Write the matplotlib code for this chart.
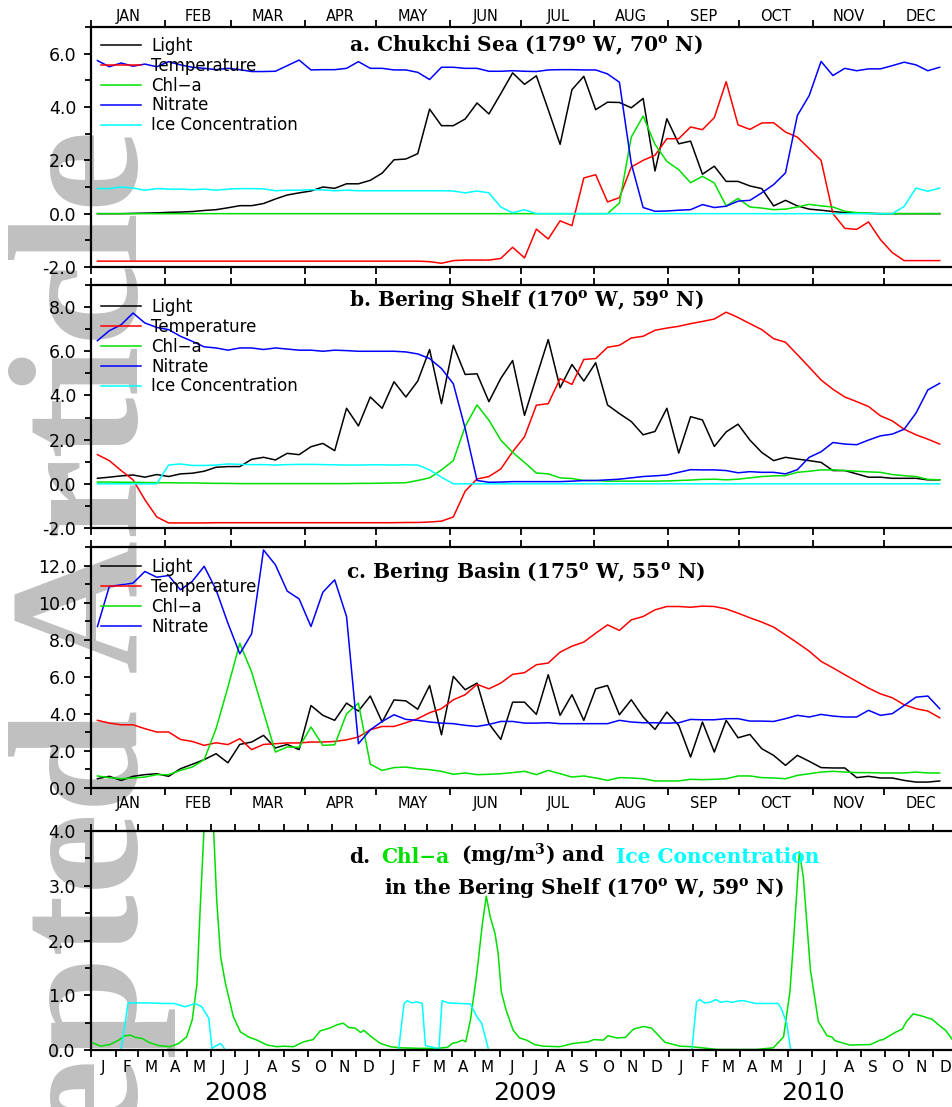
import numpy as np
import matplotlib
matplotlib.use('Agg')
import matplotlib.pyplot as plt
import matplotlib.transforms as mtransforms
from matplotlib.ticker import MultipleLocator, FixedLocator, FixedFormatter, NullFormatter, FormatStrFormatter
from matplotlib.offsetbox import TextArea, HPacker, VPacker, AnchoredOffsetbox

plt.rcParams['mathtext.fontset'] = 'dejavuserif'
plt.rcParams['font.family'] = ['DejaVu Sans']

# ---------------- data: 5-day composites, one climatological year ----------------
days = np.arange(2.5, 360, 5.0)   # 72 composite centres (day of year)

# a. Chukchi Sea
a_light = [0.0, 0.0, 0.0, 0.01, 0.02, 0.03, 0.05, 0.06, 0.08, 0.12,
           0.15, 0.22, 0.30, 0.30, 0.38, 0.55, 0.70, 0.78, 0.85, 1.00,
           0.95, 1.12, 1.12, 1.25, 1.52, 2.02, 2.05, 2.25, 3.92, 3.30,
           3.30, 3.55, 4.15, 3.74, 4.50, 5.28, 4.85, 5.17, 3.90, 2.60,
           4.65, 5.15, 3.90, 4.18, 4.17, 3.97, 4.32, 1.60, 3.56, 2.62,
           2.72, 1.48, 1.78, 1.21, 1.21, 1.04, 0.94, 0.29, 0.50, 0.29,
           0.17, 0.13, 0.08, 0.04, 0.02, 0.01, 0.0, 0.0, 0.0, 0.0,
           0.0, 0.0]
a_temp = [-1.78, -1.78, -1.78, -1.78, -1.78, -1.78, -1.78, -1.78, -1.78, -1.78,
          -1.78, -1.78, -1.78, -1.78, -1.78, -1.78, -1.78, -1.78, -1.78, -1.78,
          -1.78, -1.78, -1.78, -1.78, -1.78, -1.78, -1.78, -1.78, -1.80, -1.86,
          -1.76, -1.74, -1.74, -1.74, -1.68, -1.26, -1.66, -0.58, -0.95, -0.27,
          -0.45, 1.34, 1.46, 0.44, 0.60, 1.75, 2.00, 2.19, 2.81, 2.81,
          3.25, 3.15, 3.60, 4.95, 3.33, 3.16, 3.40, 3.41, 3.06, 2.87,
          2.44, 2.00, 0.00, -0.55, -0.59, -0.31, -0.97, -1.46, -1.76, -1.76,
          -1.76, -1.76]
a_chl = [0.0] * 44 + [0.40, 2.87, 3.66, 2.60, 1.96, 1.65, 1.16, 1.40, 1.15, 0.29,
                      0.57, 0.25, 0.21, 0.15, 0.17, 0.25, 0.35, 0.29, 0.25, 0.09,
                      0.04, 0.02, 0.0, 0.0, 0.0, 0.0, 0.0, 0.0]
a_no3 = [5.74, 5.51, 5.65, 5.53, 5.61, 5.51, 5.70, 5.58, 5.49, 5.45,
         5.40, 5.45, 5.40, 5.33, 5.33, 5.34, 5.55, 5.76, 5.39, 5.40,
         5.40, 5.45, 5.70, 5.45, 5.45, 5.39, 5.39, 5.30, 5.03, 5.49,
         5.49, 5.45, 5.45, 5.34, 5.34, 5.36, 5.34, 5.33, 5.39, 5.40,
         5.40, 5.39, 5.39, 5.24, 4.93, 1.88, 0.23, 0.09, 0.10, 0.13,
         0.15, 0.34, 0.23, 0.28, 0.47, 0.50, 0.78, 1.09, 1.53, 3.68,
         4.43, 5.71, 5.18, 5.45, 5.36, 5.43, 5.43, 5.55, 5.68, 5.58,
         5.36, 5.49]
a_ice = [0.94, 0.94, 1.00, 0.96, 0.88, 0.94, 0.92, 0.92, 0.90, 0.92,
         0.88, 0.92, 0.94, 0.94, 0.93, 0.86, 0.88, 0.88, 0.90, 0.89,
         0.86, 0.88, 0.86, 0.86, 0.86, 0.86, 0.86, 0.86, 0.86, 0.86,
         0.85, 0.78, 0.85, 0.78, 0.25, 0.03, 0.15] + [0.0] * 31 + [0.27, 0.96, 0.84, 0.96]

# b. Bering Shelf
b_light = [0.25, 0.30, 0.36, 0.40, 0.30, 0.42, 0.33, 0.45, 0.48, 0.57,
           0.75, 0.78, 0.78, 1.11, 1.20, 1.08, 1.38, 1.32, 1.68, 1.83,
           1.50, 3.42, 2.62, 3.93, 3.42, 4.62, 3.93, 4.65, 6.08, 3.63,
           6.27, 4.95, 4.98, 3.72, 4.77, 5.58, 3.10, 4.83, 6.53, 4.35,
           5.40, 4.65, 5.48, 3.57, 3.18, 2.82, 2.22, 2.37, 3.42, 1.39,
           3.04, 2.89, 1.69, 2.35, 2.70, 1.98, 1.42, 1.05, 1.20, 1.12,
           1.05, 0.97, 0.60, 0.60, 0.45, 0.30, 0.30, 0.25, 0.25, 0.25,
           0.18, 0.18]
b_temp = [1.32, 1.05, 0.60, 0.18, -0.72, -1.50, -1.77, -1.77, -1.77, -1.77,
          -1.76, -1.76, -1.76, -1.76, -1.76, -1.76, -1.76, -1.76, -1.76, -1.76,
          -1.76, -1.76, -1.76, -1.76, -1.76, -1.76, -1.75, -1.75, -1.73, -1.69,
          -1.50, -0.33, 0.22, 0.33, 0.67, 1.45, 2.13, 3.56, 3.63, 4.76,
          4.50, 5.63, 5.67, 6.18, 6.27, 6.60, 6.68, 6.95, 7.05, 7.13,
          7.25, 7.35, 7.46, 7.77, 7.53, 7.25, 6.98, 6.57, 6.41, 5.85,
          5.28, 4.70, 4.28, 3.93, 3.72, 3.50, 3.08, 2.85, 2.47, 2.22,
          2.02, 1.80]
b_chl = [0.08, 0.08, 0.07, 0.07, 0.06, 0.05, 0.05, 0.04, 0.04, 0.03,
         0.02, 0.02, 0.01, 0.01, 0.01, 0.01, 0.01, 0.01, 0.01, 0.01,
         0.01, 0.01, 0.02, 0.02, 0.03, 0.04, 0.05, 0.15, 0.27, 0.63,
         1.05, 2.60, 3.57, 2.88, 1.98, 1.42, 0.97, 0.49, 0.45, 0.27,
         0.24, 0.15, 0.15, 0.12, 0.12, 0.12, 0.12, 0.12, 0.13, 0.15,
         0.17, 0.20, 0.21, 0.18, 0.21, 0.27, 0.33, 0.36, 0.37, 0.52,
         0.57, 0.63, 0.63, 0.60, 0.57, 0.54, 0.52, 0.42, 0.37, 0.33,
         0.20, 0.18]
b_no3 = [6.48, 6.93, 7.20, 7.73, 7.28, 7.08, 6.98, 6.68, 6.45, 6.20,
         6.15, 6.05, 6.15, 6.15, 6.08, 6.15, 6.10, 6.05, 6.05, 6.00,
         6.05, 6.03, 6.00, 6.00, 6.00, 6.00, 5.97, 5.88, 5.67, 5.22,
         4.53, 2.50, 0.15, 0.07, 0.08, 0.10, 0.10, 0.10, 0.10, 0.10,
         0.12, 0.15, 0.15, 0.18, 0.21, 0.27, 0.33, 0.36, 0.40, 0.52,
         0.64, 0.63, 0.63, 0.60, 0.50, 0.55, 0.52, 0.52, 0.45, 0.64,
         1.20, 1.45, 1.87, 1.80, 1.77, 1.98, 2.17, 2.25, 2.47, 3.20,
         4.25, 4.55]
b_ice = [0.0] * 6 + [0.85, 0.90, 0.83, 0.83, 0.85, 0.90, 0.88, 0.87, 0.87, 0.85,
                     0.87, 0.88, 0.88, 0.87, 0.86, 0.85, 0.85, 0.86, 0.86, 0.85,
                     0.86, 0.85, 0.63, 0.30] + [0.0] * 42

# c. Bering Basin
c_light = [0.50, 0.63, 0.41, 0.63, 0.72, 0.77, 0.63, 1.04, 1.28, 1.53,
           1.85, 1.36, 2.35, 2.48, 2.84, 2.16, 2.35, 2.07, 4.45, 3.92,
           3.65, 4.58, 4.15, 4.96, 3.56, 4.75, 4.70, 4.25, 5.53, 2.87,
           6.02, 5.30, 5.66, 3.47, 2.62, 4.63, 4.63, 3.97, 6.11, 3.92,
           5.03, 3.65, 5.35, 5.53, 3.95, 4.76, 3.83, 3.16, 4.10, 3.38,
           1.67, 3.56, 1.94, 3.65, 2.71, 2.89, 2.12, 1.76, 1.22, 1.76,
           1.44, 1.10, 1.08, 1.08, 0.56, 0.63, 0.54, 0.54, 0.41, 0.32,
           0.32, 0.38]
c_temp = [3.65, 3.50, 3.41, 3.41, 3.20, 3.02, 3.02, 2.62, 2.51, 2.30,
          2.44, 2.34, 2.66, 2.07, 2.35, 2.39, 2.43, 2.43, 2.48, 2.48,
          2.51, 2.60, 2.75, 3.14, 3.32, 3.32, 3.52, 3.74, 4.06, 4.28,
          4.76, 5.03, 5.59, 5.35, 5.66, 6.13, 6.22, 6.65, 6.74, 7.33,
          7.65, 7.87, 8.35, 8.80, 8.50, 9.07, 9.25, 9.61, 9.79, 9.79,
          9.75, 9.81, 9.79, 9.66, 9.43, 9.18, 8.95, 8.68, 8.26, 7.83,
          7.38, 6.83, 6.48, 6.11, 5.75, 5.39, 5.08, 4.87, 4.49, 4.28,
          4.15, 3.79]
c_chl = [0.65, 0.56, 0.50, 0.54, 0.59, 0.72, 0.72, 0.95, 1.13, 1.53,
         3.20, 5.44, 7.81, 6.25, 4.10, 1.94, 2.21, 2.20, 3.29, 2.30,
         2.33, 4.00, 4.58, 1.28, 0.95, 1.10, 1.13, 1.04, 0.99, 0.90,
         0.74, 0.81, 0.72, 0.74, 0.77, 0.83, 0.90, 0.72, 0.95, 0.77,
         0.59, 0.65, 0.54, 0.41, 0.56, 0.54, 0.50, 0.38, 0.38, 0.38,
         0.47, 0.45, 0.47, 0.50, 0.65, 0.65, 0.56, 0.54, 0.50, 0.68,
         0.77, 0.86, 0.90, 0.86, 0.83, 0.83, 0.81, 0.81, 0.81, 0.86,
         0.81, 0.81]
c_no3 = [8.71, 10.87, 10.96, 11.05, 11.68, 11.37, 11.46, 10.69, 11.15, 11.96,
         10.69, 8.89, 7.24, 8.32, 12.84, 12.04, 10.62, 10.20, 8.71, 10.56,
         11.23, 9.25, 2.39, 3.14, 3.59, 3.95, 3.70, 3.65, 3.56, 3.50,
         3.47, 3.38, 3.32, 3.43, 3.59, 3.59, 3.50, 3.50, 3.52, 3.47,
         3.47, 3.47, 3.47, 3.47, 3.65, 3.56, 3.52, 3.52, 3.50, 3.52,
         3.70, 3.68, 3.68, 3.74, 3.74, 3.61, 3.61, 3.59, 3.74, 3.92,
         3.83, 3.97, 3.88, 3.83, 3.83, 4.19, 3.92, 4.01, 4.45, 4.90,
         4.96, 4.28]

# d. Bering Shelf 2008-2010, days since 2008-01-01
d_chl_day = [1, 12, 24, 35, 43, 50, 56, 65, 73, 86, 100, 111, 121, 128, 134, 138, 143, 149, 155,
             159, 164, 170, 180, 189, 199, 210, 223, 235, 244, 256, 269, 281, 290, 302, 311,
             319, 326, 334, 341, 345, 353, 366, 379, 391, 417, 438, 451, 457, 463, 470, 474,
             480, 488, 495, 500, 505, 511, 515, 519, 525, 534, 542, 551, 561, 572, 593, 610,
             629, 636, 648, 654, 665, 676, 686, 699, 709, 726, 745, 760, 792, 817, 842, 863,
             876, 884, 889, 896, 901, 910, 920, 931, 937, 941, 960, 986, 998, 1002, 1017,
             1026, 1032, 1040, 1051, 1064, 1072, 1081, 1090]
d_chl = [0.14, 0.07, 0.10, 0.18, 0.26, 0.27, 0.23, 0.21, 0.14, 0.08, 0.06, 0.12, 0.24, 0.55, 1.20,
         2.55, 4.05, 4.80, 4.05, 2.74, 1.70, 1.22, 0.61, 0.33, 0.24, 0.18, 0.09, 0.06, 0.07, 0.06,
         0.15, 0.19, 0.35, 0.40, 0.46, 0.49, 0.41, 0.40, 0.32, 0.36, 0.26, 0.12, 0.06, 0.04, 0.03,
         0.03, 0.05, 0.12, 0.14, 0.18, 0.15, 0.55, 1.40, 2.30, 2.81, 2.43, 2.13, 1.76, 1.06, 0.73,
         0.36, 0.22, 0.18, 0.10, 0.07, 0.06, 0.12, 0.15, 0.19, 0.18, 0.26, 0.22, 0.23, 0.38, 0.43,
         0.40, 0.14, 0.07, 0.06, 0.01, 0.01, 0.01, 0.04, 0.24, 1.06, 2.07, 3.62, 3.16, 1.46, 0.52,
         0.26, 0.24, 0.17, 0.09, 0.10, 0.18, 0.19, 0.32, 0.38, 0.53, 0.66, 0.62, 0.56, 0.46, 0.36,
         0.18]
d_ice_day = [0, 38, 47, 60, 74, 90, 105, 119, 132, 140, 149, 153, 160, 164, 170, 389, 396, 400,
             406, 412, 419, 423, 433, 440, 444, 452, 467, 480, 488, 494, 503, 760, 766, 770, 776,
             783, 790, 797, 804, 811, 820, 826, 840, 855, 869, 873, 880, 885, 1096]
d_ice = [0.0, 0.0, 0.86, 0.86, 0.86, 0.85, 0.85, 0.79, 0.85, 0.79, 0.58, 0.03, 0.09, 0.12, 0.0,
         0.0, 0.85, 0.90, 0.86, 0.88, 0.85, 0.08, 0.05, 0.0, 0.90, 0.86, 0.85, 0.84, 0.61, 0.49,
         0.0, 0.0, 0.88, 0.92, 0.86, 0.87, 0.92, 0.87, 0.89, 0.87, 0.90, 0.90, 0.85, 0.85, 0.85,
         0.76, 0.49, 0.0, 0.0]

month_edges = [0, 31, 59, 90, 120, 151, 181, 212, 243, 273, 304, 334, 365]
month_names = ['JAN', 'FEB', 'MAR', 'APR', 'MAY', 'JUN', 'JUL', 'AUG', 'SEP', 'OCT', 'NOV', 'DEC']
series_names = ['Light', 'Temperature', 'Chl\u2212a', 'Nitrate', 'Ice Concentration']
colors = ['black', '#ff0000', '#00e000', '#0000ff', '#00ffff']

W, H = 953.0, 1107.0
fig = plt.figure(figsize=(W / 100, H / 100), dpi=100)

# watermark
fig.text(137 / W, 1 - 130 / H, 'Accepted Article', rotation=90, rotation_mode='anchor',
         ha='right', va='baseline', fontsize=133, family='Liberation Serif',
         fontweight='bold', color='#c0c0c0', zorder=-10)


def make_axes(top, bottom, left=91.5, right=957.5):
    ax = fig.add_axes([left / W, 1 - bottom / H, (right - left) / W, (bottom - top) / H])
    ax.set_facecolor('none')
    for s in ax.spines.values():
        s.set_linewidth(1.6)
    ax.tick_params(axis='y', which='both', direction='out', right=False, labelsize=12.5, pad=6, width=1.3)
    ax.tick_params(axis='y', which='major', length=5)
    ax.tick_params(axis='y', which='minor', length=4)
    return ax


def year_panel(ax, series, ylim, ystep, title, title_y, legend_y, label_side):
    for vals, name, col in zip(series, series_names, colors):
        ax.plot(days, vals, color=col, lw=1.1, label=name)
    ax.set_xlim(0, 365)
    ax.set_ylim(*ylim)
    ax.yaxis.set_major_locator(MultipleLocator(ystep))
    ax.yaxis.set_minor_locator(MultipleLocator(ystep / 2))
    ax.yaxis.set_major_formatter(FormatStrFormatter('%.1f'))
    mids = [(a + b) / 2 for a, b in zip(month_edges[:-1], month_edges[1:])]
    ax.xaxis.set_major_locator(FixedLocator(month_edges[:-1]))
    ax.xaxis.set_major_formatter(NullFormatter())
    ax.xaxis.set_minor_locator(FixedLocator(mids))
    ax.xaxis.set_minor_formatter(FixedFormatter(month_names))
    ax.tick_params(axis='x', which='major', direction='out', length=5, width=1.3,
                   top=True, bottom=True, labelbottom=False, labeltop=False)
    ax.tick_params(axis='x', which='minor', length=0, top=False, bottom=False,
                   labelsize=10.5, pad=(2.5 if label_side == 'top' else 6),
                   labeltop=(label_side == 'top'), labelbottom=(label_side == 'bottom'))
    ax.legend(loc='upper left', bbox_to_anchor=(101 / W, 1 - (legend_y - 8) / H),
              bbox_transform=fig.transFigure, frameon=False, fontsize=12,
              handlelength=2.4, handletextpad=0.6, labelspacing=0.11,
              borderaxespad=0, borderpad=0)
    fig.text(526 / W, 1 - title_y / H, title, ha='center', va='center', fontsize=14.5,
             fontweight='bold', family='DejaVu Serif')


ax_a = make_axes(27, 267)
year_panel(ax_a, [a_light, a_temp, a_chl, a_no3, a_ice], (-2, 7), 2,
           r'a. Chukchi Sea (179$^{\mathbf{o}}$ W, 70$^{\mathbf{o}}$ N)', 45, 45, 'top')

ax_b = make_axes(285, 528)
year_panel(ax_b, [b_light, b_temp, b_chl, b_no3, b_ice], (-2, 9), 2,
           r'b. Bering Shelf (170$^{\mathbf{o}}$ W, 59$^{\mathbf{o}}$ N)', 300, 306, 'none')

ax_c = make_axes(547, 788)
year_panel(ax_c, [c_light, c_temp, c_chl, c_no3], (0, 13), 2,
           r'c. Bering Basin (175$^{\mathbf{o}}$ W, 55$^{\mathbf{o}}$ N)', 572, 566, 'bottom')

# panel d
ax_d = make_axes(831, 1050, left=91.0)
ax_d.plot(d_chl_day, d_chl, color=colors[2], lw=1.1)
ax_d.plot(d_ice_day, d_ice, color=colors[4], lw=1.1)
ax_d.set_xlim(0, 1096)
ax_d.set_ylim(0, 4)
ax_d.yaxis.set_major_locator(MultipleLocator(1))
ax_d.yaxis.set_minor_locator(MultipleLocator(0.5))
ax_d.yaxis.set_major_formatter(FormatStrFormatter('%.1f'))
months_d = np.arange('2008-01', '2011-02', dtype='datetime64[M]')
edges_d = (months_d.astype('datetime64[D]') - np.datetime64('2008-01-01')).astype(int)
mids_d = (edges_d[:-1] + edges_d[1:]) / 2.0
ax_d.xaxis.set_major_locator(FixedLocator(edges_d[:-1]))
ax_d.xaxis.set_major_formatter(NullFormatter())
ax_d.xaxis.set_minor_locator(FixedLocator(mids_d))
ax_d.xaxis.set_minor_formatter(FixedFormatter(list('JFMAMJJASOND') * 3))
ax_d.tick_params(axis='x', which='major', direction='out', length=5, width=1.3,
                 top=True, bottom=True, labelbottom=False)
ax_d.tick_params(axis='x', which='minor', length=0, labelsize=11, pad=7)
trans_d = mtransforms.blended_transform_factory(ax_d.transData, ax_d.transAxes)
for yr, mid in zip(['2008', '2009', '2010'], [183, 548.5, 913.5]):
    ax_d.text(mid, -0.195, yr, transform=trans_d, ha='center', va='center', fontsize=18)

tp = dict(fontsize=14.5, fontweight='bold', family='DejaVu Serif')
line1 = HPacker(children=[TextArea('d.', textprops=dict(color='black', **tp)),
                          TextArea('Chl\u2212a', textprops=dict(color='#00e000', **tp)),
                          TextArea(r'(mg/m$^{\mathbf{3}}$) and', textprops=dict(color='black', **tp)),
                          TextArea('Ice Concentration', textprops=dict(color='#00ffff', **tp))],
                align='baseline', pad=0, sep=8)
line2 = TextArea(r'in the Bering Shelf (170$^{\mathbf{o}}$ W, 59$^{\mathbf{o}}$ N)',
                 textprops=dict(color='black', **tp))
title_d = VPacker(children=[line1, line2], align='center', pad=0, sep=5)
anch = AnchoredOffsetbox(loc='center', child=title_d, pad=0, borderpad=0, frameon=False,
                         bbox_to_anchor=(584 / W, 1 - 871 / H), bbox_transform=fig.transFigure)
ax_d.add_artist(anch)

fig.savefig('out.png', dpi=100)
